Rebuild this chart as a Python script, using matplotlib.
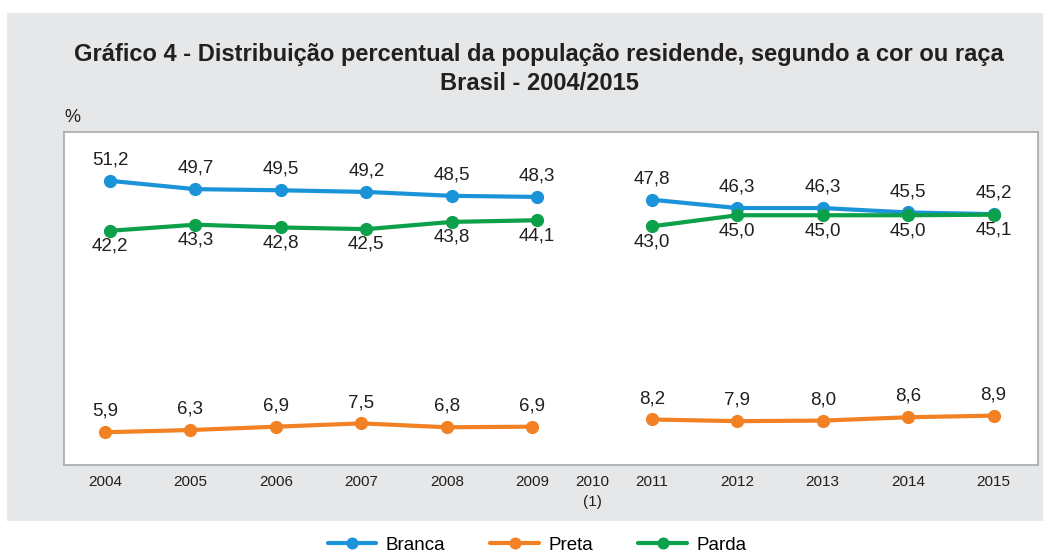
import numpy as np
import matplotlib.pyplot as plt
from matplotlib.patches import Rectangle
from matplotlib.transforms import offset_copy

plt.rcParams['font.family'] = ['Liberation Sans', 'DejaVu Sans']

years = ['2004', '2005', '2006', '2007', '2008', '2009', '2010\n(1)',
         '2011', '2012', '2013', '2014', '2015']
branca = [51.2, 49.7, 49.5, 49.2, 48.5, 48.3, np.nan, 47.8, 46.3, 46.3, 45.5, 45.2]
preta = [5.9, 6.3, 6.9, 7.5, 6.8, 6.9, np.nan, 8.2, 7.9, 8.0, 8.6, 8.9]
parda = [42.2, 43.3, 42.8, 42.5, 43.8, 44.1, np.nan, 43.0, 45.0, 45.0, 45.0, 45.1]

c_branca = '#1A93D9'
c_preta = '#F28124'
c_parda = '#0DA04A'
bg = '#E6E7E8'
txt = '#231F20'

fig = plt.figure(figsize=(10.51, 5.54), dpi=100)
fig.add_artist(Rectangle((7 / 1051, 1 - 521 / 554), 1036 / 1051, 508 / 554,
                         transform=fig.transFigure, facecolor=bg,
                         edgecolor='none', zorder=-5))
ax = fig.add_axes([64 / 1051, 1 - 465 / 554, 974 / 1051, 333 / 554])
ax.set_zorder(2)
ax.set_facecolor('white')

# the 2010 slot is narrower than the others
idx = np.arange(len(years))
x = np.where(idx < 6, idx, idx - 0.6).astype(float)
x[6] = (x[5] + x[7]) / 2

segments = [np.arange(0, 6), np.arange(7, 12)]
# (name, values, colour, label side, pixel shift of the 2004-2009 part)
series = [('Branca', branca, c_branca, 1, 5),
          ('Preta', preta, c_preta, 1, 0),
          ('Parda', parda, c_parda, -1, 5)]
for name, vals, col, side, shift in series:
    vals = np.array(vals)
    for k, seg in enumerate(segments):
        tr = offset_copy(ax.transData, fig=fig, x=shift if k == 0 else 0,
                         y=0, units='dots')
        ax.plot(x[seg], vals[seg], color=col, lw=3, marker='o', ms=8.5,
                label=name if k == 0 else None, transform=tr,
                solid_capstyle='round')
        for xi, v in zip(x[seg], vals[seg]):
            off = 15 if side > 0 else -11
            ax.annotate(f'{v:.1f}'.replace('.', ','), (xi, v), xycoords=tr,
                        xytext=(0, off), textcoords='offset points',
                        ha='center', va='center', fontsize=13.5, color=txt)

ax.set_xlim(-0.48, x[-1] + 0.52)
ax.set_ylim(0, 60)
ax.set_xticks(x)
ax.set_xticklabels(years, fontsize=11, color=txt, linespacing=1.55)
ax.tick_params(axis='x', length=0, pad=7)
ax.set_yticks([])
for s in ax.spines.values():
    s.set_color('#A7A9AC')
    s.set_linewidth(1.2)

fig.text(72 / 1051, 1 - 118 / 554, '%', fontsize=13, color=txt,
         ha='center', va='center')
fig.text(539 / 1051, 1 - 54 / 554,
         'Gráfico 4 - Distribuição percentual da população residende, segundo a cor ou raça',
         fontsize=17, fontweight='bold', ha='center', va='center', color=txt)
fig.text(539 / 1051, 1 - 83 / 554, 'Brasil - 2004/2015',
         fontsize=17, fontweight='bold', ha='center', va='center', color=txt)

fig.legend(loc='center', bbox_to_anchor=(537 / 1051, 1 - 545 / 554), ncol=3,
           frameon=False, fontsize=13.5, handlelength=2.6, columnspacing=2.4,
           handletextpad=0.5, markerscale=0.9)

fig.savefig('out.png', dpi=100, facecolor='white')
